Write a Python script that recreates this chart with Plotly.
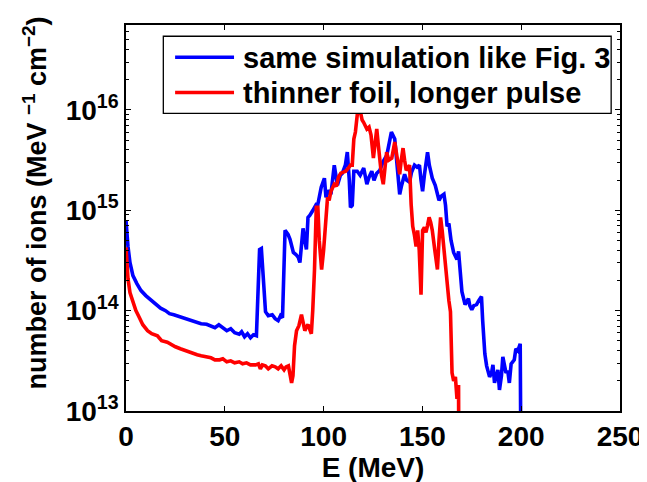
import numpy as np
import plotly.graph_objects as go

# Energy (MeV) and log10(number of ions per MeV per cm^2)
blue_E = [0, 0.5, 1, 2, 3.5, 5.5, 7.6, 10, 12.6, 15, 17.5, 20, 22, 24.2, 27, 30, 32.5, 35, 38, 40.8,
          43, 45, 47, 49, 51, 53, 55, 57.3, 58.5, 60, 61.5, 63, 64.5, 66, 67, 67.6, 68.5, 69.5, 70.6,
          72, 74, 75.5, 77, 78.2, 79.2, 80.5, 82, 83, 84.7, 86, 87.2, 88, 89.6, 90.5, 91.3, 92.1, 93,
          94.6, 96.3, 97.1, 98.8, 100.4, 101.2, 102.5, 103.7, 105.4, 107, 108.5, 109.5, 111, 112, 113,
          113.6, 114.5, 115.3, 117, 118.5, 120.3, 121.9, 123, 124.4, 125.5, 126.9, 128.5, 130.2, 132,
          133, 134.3, 136, 137, 138.5, 139.5, 141, 142, 143.5, 144.5, 146, 147.3, 148.5, 149.3, 150.1,
          151, 152.6, 153.5, 155, 156.5, 158.4, 159.5, 160.9, 161.7, 162.5, 163.4, 164.5, 165.8, 167.5,
          168.3, 169, 170, 171.6, 173.3, 174, 175, 176, 177.4, 178.5, 179.9, 180.5, 181.6, 182.5, 184,
          185, 185.7, 186.5, 187.3, 188.2, 189, 190, 190.7, 191.5, 192.3, 193.2, 194, 194.9, 196.5,
          197.3, 198.3, 199.5, 200]
blue_log = [14.90, 14.75, 14.64, 14.48, 14.35, 14.27, 14.20, 14.15, 14.107, 14.06, 14.025, 14.00, 13.97,
            13.96, 13.94, 13.92, 13.91, 13.89, 13.87, 13.864, 13.85, 13.83, 13.86, 13.83, 13.80, 13.82,
            13.78, 13.766, 13.79, 13.74, 13.77, 13.73, 13.76, 13.75, 14.45, 14.61, 14.62, 14.30, 13.99,
            13.95, 13.96, 13.92, 13.90, 13.95, 13.93, 14.80, 14.76, 14.71, 14.58, 14.56, 14.53, 14.48,
            14.82, 14.70, 14.61, 14.93, 14.95, 15.00, 15.06, 15.06, 15.23, 15.32, 15.13, 15.20, 15.16,
            15.45, 15.25, 15.35, 15.37, 15.45, 15.58, 15.30, 15.03, 15.05, 15.39, 15.39, 15.35, 15.42,
            15.26, 15.33, 15.39, 15.30, 15.37, 15.40, 15.49, 15.55, 15.65, 15.78, 15.71, 15.45, 15.16,
            15.25, 15.36, 15.30, 15.28, 15.38, 15.45, 15.43, 15.45, 15.30, 15.19, 15.35, 15.58, 15.45,
            15.32, 15.25, 15.10, 15.14, 15.16, 15.05, 14.84, 14.87, 14.70, 14.58, 14.51, 14.59, 14.40,
            14.19, 14.06, 14.12, 14.05, 14.01, 14.05, 14.06, 14.10, 14.14, 13.90, 13.57, 13.45, 13.34,
            13.38, 13.46, 13.28, 13.35, 13.41, 13.21, 13.35, 13.54, 13.45, 13.38, 13.40, 13.28, 13.47,
            13.51, 13.62, 13.60, 13.67, 12.0]

red_E = [0, 0.5, 1, 2, 3.5, 5, 6.8, 8.5, 10.9, 13, 15.9, 18, 20.9, 23, 25, 27.5, 30, 32, 34.1, 36, 38,
         40.8, 43, 45, 47.4, 49, 51, 53, 55, 57.3, 59, 61, 63, 65.6, 67, 68, 69, 70.5, 72, 73.9, 75.5,
         77, 78.5, 80, 81, 82.2, 83, 83.8, 84.5, 85.3, 86.3, 87.5, 88.8, 89.5, 90.5, 91.3, 92.1, 93.2,
         93.8, 94.5, 95.4, 96.3, 97.1, 97.8, 99, 100, 101.2, 102, 102.8, 103.7, 105.4, 106.5, 107.5,
         108.7, 110, 111.2, 112.5, 113.6, 114.5, 115.3, 116.1, 117.3, 118.2, 118.6, 119.5, 120.3,
         121.9, 123, 124, 125.2, 126, 126.9, 127.7, 128.5, 129.3, 130.2, 131, 131.9, 133, 134.5, 136,
         137.2, 138.5, 139.3, 140.2, 141, 141.8, 142.7, 143.5, 144.3, 145.1, 146, 146.8, 147.6, 148.4,
         149.3, 150.1, 151, 151.8, 152.6, 153.4, 154.2, 155, 156.3, 157.6, 158.4, 159.2, 160, 160.9,
         161.7, 162.5, 163.4, 164.2, 164.8, 165, 165.8, 166.7, 167.5, 168.3, 168.5]
red_log = [14.63, 14.45, 14.32, 14.18, 14.09, 14.00, 13.93, 13.86, 13.80, 13.77, 13.75, 13.70, 13.685,
           13.66, 13.64, 13.62, 13.60, 13.59, 13.57, 13.56, 13.55, 13.54, 13.53, 13.51, 13.51, 13.52,
           13.49, 13.50, 13.48, 13.49, 13.47, 13.48, 13.46, 13.46, 13.47, 13.42, 13.46, 13.45, 13.42,
           13.45, 13.44, 13.42, 13.45, 13.41, 13.44, 13.45, 13.38, 13.28, 13.35, 13.65, 13.80, 13.85,
           13.96, 13.88, 13.80, 13.84, 13.86, 13.80, 13.77, 14.00, 14.41, 15.03, 15.03, 14.70, 14.41,
           14.60, 14.87, 15.13, 15.10, 15.19, 15.26, 15.24, 15.33, 15.37, 15.38, 15.39, 15.42, 15.45,
           15.45, 15.71, 15.78, 16.00, 16.02, 15.97, 15.90, 15.875, 15.81, 15.83, 15.75, 15.52, 15.70,
           15.81, 15.65, 15.49, 15.35, 15.26, 15.40, 15.58, 15.50, 15.52, 15.68, 15.55, 15.36, 15.50,
           15.62, 15.50, 15.40, 15.42, 15.45, 15.06, 14.84, 14.75, 14.64, 14.80, 14.60, 14.16, 14.80,
           14.83, 14.78, 14.85, 14.93, 14.88, 14.80, 14.60, 14.41, 14.70, 14.93, 14.80, 14.60, 14.41,
           14.22, 14.10, 13.99, 13.60, 13.38, 13.30, 13.34, 13.12, 13.26, 12.0]

series_names = ["same simulation like Fig. 3", "thinner foil, longer pulse"]
series_colors = ["#0000ff", "#ff0000"]
x_ticks = [0, 50, 100, 150, 200, 250]
y_tick_exps = [13, 14, 15, 16]

FONT = "Liberation Sans, Arial, Helvetica, sans-serif"
W, H = 647, 482
ML, MR, MT, MB = 118, 26, 17, 70
PW, PH = W - ML - MR, H - MT - MB


def px(xp):
    return (xp - ML) / PW


def py(yp):
    return (H - MB - yp) / PH


fig = go.Figure()
fig.add_trace(go.Scatter(x=blue_E, y=10 ** np.array(blue_log), mode="lines",
                         line=dict(color=series_colors[0], width=3.6), name=series_names[0],
                         showlegend=False))
fig.add_trace(go.Scatter(x=red_E, y=10 ** np.array(red_log), mode="lines",
                         line=dict(color=series_colors[1], width=3.6), name=series_names[1],
                         showlegend=False))

minor_vals = [m * 10 ** e for e in range(13, 17) for m in range(2, 10)]

# legend box (drawn above the data, opaque white)
shapes = [dict(type="rect", xref="paper", yref="paper", x0=px(156), x1=px(612), y0=py(107.5), y1=py(28.5),
               fillcolor="white", line=dict(color="black", width=1.3), layer="above")]
annotations = []
for i, (name, col) in enumerate(zip(series_names, series_colors)):
    yc = 50 + 36 * i
    shapes.append(dict(type="line", xref="paper", yref="paper", x0=px(168), x1=px(228), y0=py(yc), y1=py(yc),
                       line=dict(color=col, width=3.6), layer="above"))
    annotations.append(dict(text=name, xref="paper", yref="paper", x=px(235), y=py(yc + 1),
                            xanchor="left", yanchor="middle", showarrow=False,
                            font=dict(family=FONT, size=29, color="black", weight="bold")))

annotations.append(dict(text="number of ions (MeV <sup>\u22121</sup> cm<sup>\u22122</sup>)",
                        xref="paper", yref="paper", x=px(25), y=py(199), textangle=-90,
                        xanchor="center", yanchor="middle", showarrow=False,
                        font=dict(family=FONT, size=27, color="black", weight="bold")))

fig.update_layout(
    width=W, height=H,
    margin=dict(l=ML, r=MR, t=MT, b=MB),
    paper_bgcolor="white", plot_bgcolor="white",
    font=dict(family=FONT, size=28, color="black", weight="bold"),
    showlegend=False,
    shapes=shapes,
    annotations=annotations,
    xaxis=dict(range=[0, 250], tickvals=x_ticks, ticktext=[str(v) for v in x_ticks],
               ticks="inside", ticklen=5, tickwidth=1, tickcolor="black",
               showline=True, linecolor="black", linewidth=1.6, mirror="ticks",
               showgrid=False, zeroline=False,
               tickfont=dict(family=FONT, size=28, color="black", weight="bold"),
               title=dict(text="E (MeV)", standoff=6,
                          font=dict(family=FONT, size=28, color="black", weight="bold"))),
    yaxis=dict(type="log", range=[13, 16.847],
               tickvals=[10 ** e for e in y_tick_exps],
               ticktext=["10<sup>%d</sup>" % e for e in y_tick_exps],
               ticks="inside", ticklen=5, tickwidth=1, tickcolor="black",
               showline=True, linecolor="black", linewidth=1.6, mirror="ticks",
               showgrid=False, zeroline=False,
               minor=dict(tickvals=minor_vals, ticks="inside", ticklen=3, tickwidth=1,
                          tickcolor="black", showgrid=False),
               tickfont=dict(family=FONT, size=28, color="black", weight="bold")),
)

fig.write_html("out.html")
